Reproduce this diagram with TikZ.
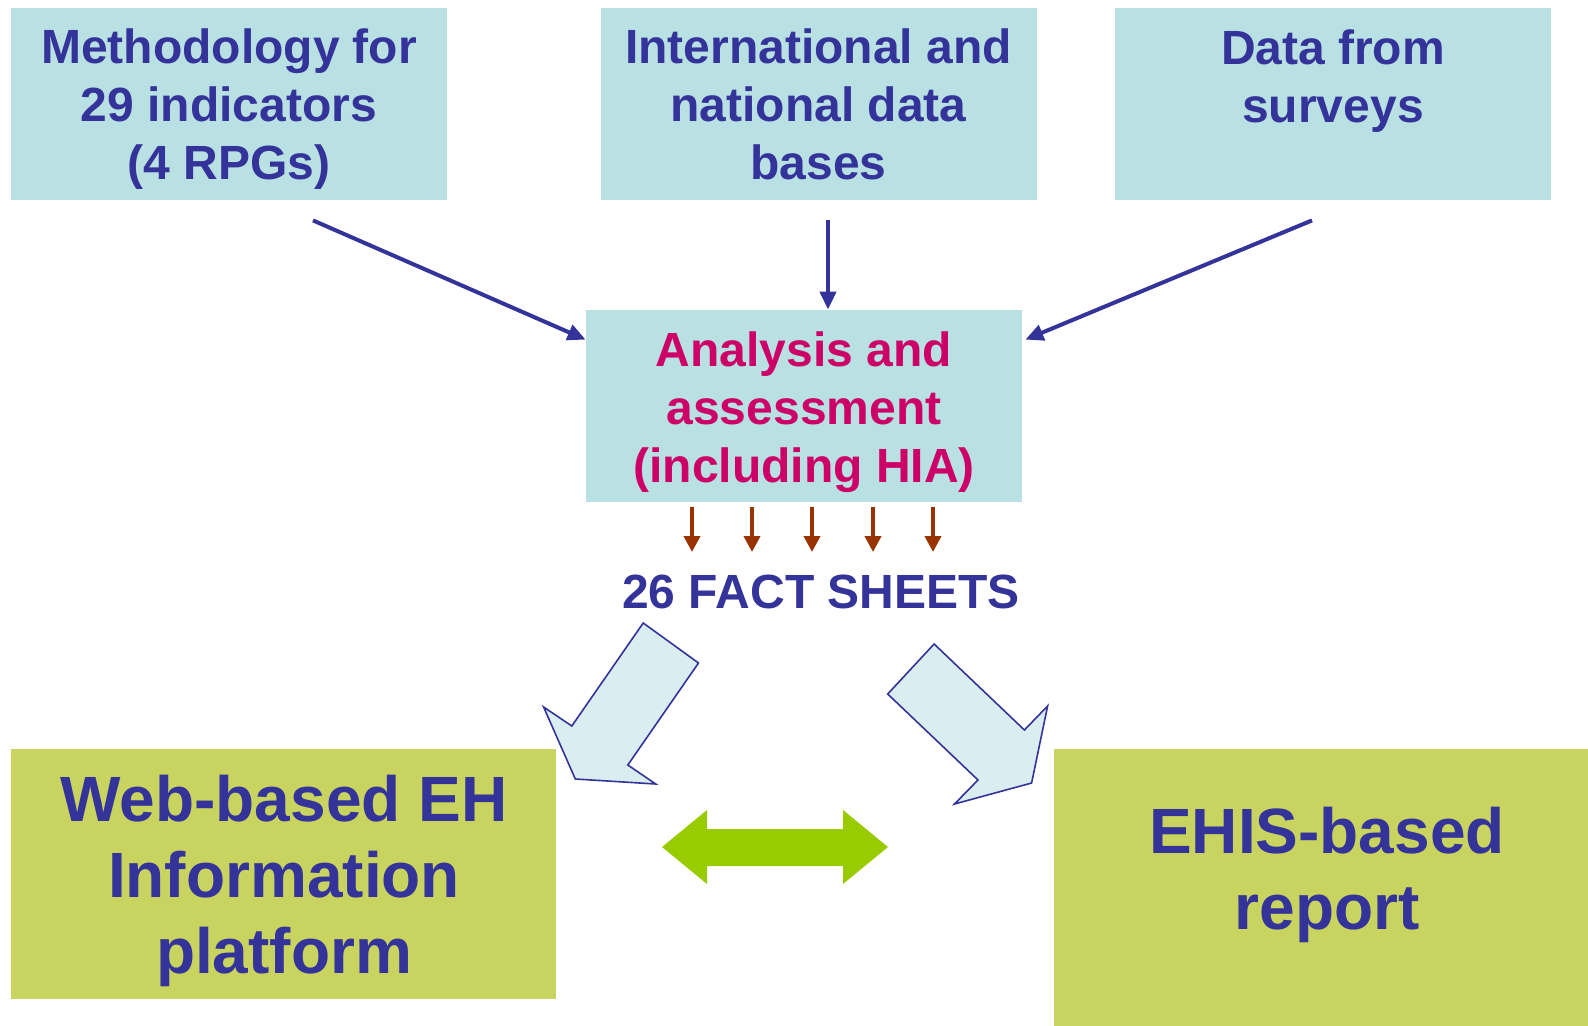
\documentclass[tikz,border=0pt]{standalone}
\usepackage{fontspec}
\setmainfont{Liberation Sans}
\usetikzlibrary{arrows.meta,calc}
\definecolor{navy}{RGB}{51,51,153}
\definecolor{paleteal}{RGB}{185,224,227}
\definecolor{olivegreen}{RGB}{201,212,96}
\definecolor{magentared}{RGB}{204,0,102}
\definecolor{rust}{RGB}{153,51,0}
\definecolor{limegreen}{RGB}{153,204,0}
\definecolor{paleblue}{RGB}{218,237,240}
\begin{document}
\begin{tikzpicture}[x=0.5pt,y=-0.5pt,
  srcbox/.style={fill=paleteal,draw=none,inner sep=0pt,minimum width=218pt,minimum height=96pt},
  srctext/.style={align=center,text=navy,inner sep=0pt,font=\bfseries\fontsize{24}{29}\selectfont},
  platbox/.style={fill=olivegreen,draw=none,inner sep=0pt},
  bigtext/.style={align=center,text=navy,inner sep=0pt,font=\bfseries\fontsize{32}{38}\selectfont},
  feed/.style={draw=navy,line width=2pt,-{Triangle[length=9pt,width=8pt]}},
  sheet/.style={draw=rust,line width=1.9pt,-{Triangle[length=8pt,width=8pt]}},
  fatarrow/.style={fill=paleblue,draw=navy,line width=0.8pt,line join=miter}
]
\useasboundingbox (0,0) rectangle (1588,1026);

% source boxes
\node[srcbox] (meth) at (229,104) {};
\node[srctext] (methtext) at (229,109) {Methodology for\\29 indicators\\(4 RPGs)};
\node[srcbox] (dbs) at (818.5,104) {};
\node[srctext] (dbstext) at (818.5,104) {International and\\national data\\bases};
\node[srcbox] (surv) at (1333,104) {};
\node[srctext] (survtext) at (1333,114) {Data from\\surveys\\\strut};

% analysis box
\node[srcbox] (ana) at (804,406) {};
\node[srctext,text=magentared] (anatext) at (804,412) {Analysis and\\assessment\\(including HIA)};

% feeding arrows
\coordinate (mstart) at ($(meth.south)+(84,20)$);
\coordinate (sstart) at ($(surv.south)+(-21,20)$);
\coordinate (dstart) at ($(dbs.south)+(9.5,20)$);
\draw[feed] (mstart) -- ($(ana.north west)+(0,30)$);
\draw[feed] (sstart) -- ($(ana.north east)+(3,30)$);
\draw[feed] (dstart) -- (dstart |- ana.north);

% fact sheets
\node[srctext] (facts) at (821,592) {26 FACT SHEETS};
\foreach \xx in {692,752,812,873,933}
  \draw[sheet] (\xx,507) -- (\xx,552);

% platform boxes
\node[platbox,minimum width=272.5pt,minimum height=125pt] (webbox) at (283.5,874) {};
\node[bigtext] (web) at (284,881) {Web-based EH\\Information\\platform};
\node[platbox,minimum width=267pt,minimum height=138.5pt] (ehisbox) at (1321,887.5) {};
\node[bigtext] (ehis) at (1327,875) {EHIS-based\\report};

% broad arrows towards the outputs
\draw[fatarrow] (643.2,623) -- (698.5,663) -- (627.8,765) -- (655.7,784) -- (575.3,779)
  -- (543.6,707) -- (571.8,726) -- cycle;
\draw[fatarrow] (934.1,644) -- (1024.4,730) -- (1047.6,706) -- (1031.6,783) -- (954.5,804)
  -- (978,780) -- (887.7,694) -- cycle;

% two-way link between outputs
\fill[limegreen] (662,847) -- (707,810) -- (707,829) -- (843,829) -- (843,810)
  -- (888,847) -- (843,884) -- (843,866) -- (707,866) -- (707,884) -- cycle;
\end{tikzpicture}
\end{document}
